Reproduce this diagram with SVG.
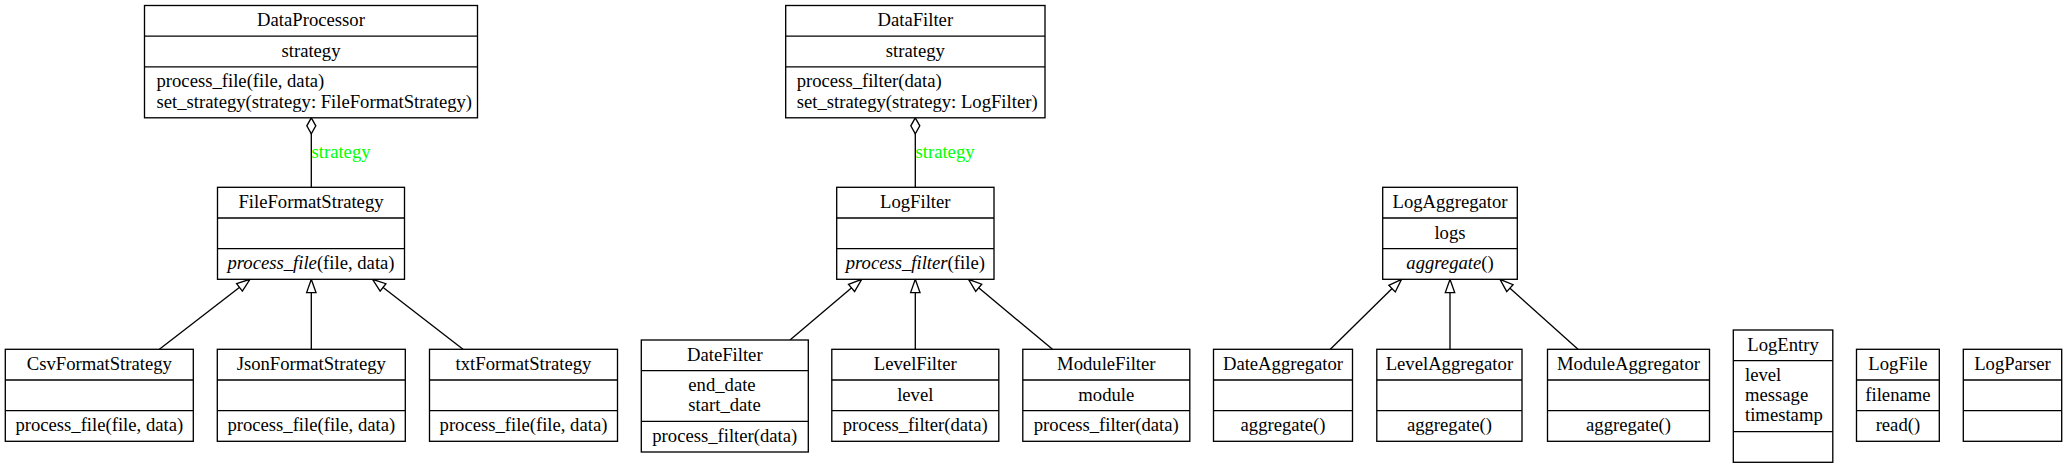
<svg xmlns="http://www.w3.org/2000/svg" width="2067" height="468" viewBox="0 0 2067 468">
<defs>
<style>
.box{fill:#fff;stroke:#000;stroke-width:1.33}
.div{stroke:#000;stroke-width:1.33}
.t{font-family:"Liberation Serif","Times New Roman",serif;font-size:18.67px;fill:#000}
.c{text-anchor:middle}
.i{font-style:italic}
.edge{stroke:#000;stroke-width:1.33;fill:none}
.lbl{font-family:"Liberation Serif","Times New Roman",serif;font-size:18.67px;fill:#00ff00}
</style>
<marker id="tri" markerUnits="userSpaceOnUse" viewBox="-1 -1 16 12" refX="13.3" refY="5" markerWidth="16" markerHeight="12" orient="auto">
<path d="M0,0.3 L13.3,5 L0,9.7 Z" fill="#fff" stroke="#000" stroke-width="1.33"/>
</marker>
<marker id="dia" markerUnits="userSpaceOnUse" viewBox="-1 -1 18 12" refX="0" refY="5" markerWidth="18" markerHeight="12" orient="auto">
<path d="M0,5 L8,0.5 L16,5 L8,9.5 Z" fill="#fff" stroke="#000" stroke-width="1.33"/>
</marker>
</defs>
<rect width="2067" height="468" fill="#fff"/>

<g id="edges">
<path class="edge" d="M311.3,117.8 L311.3,187.3" marker-start="url(#dia)"/>
<text class="lbl" x="311.5" y="157.5">strategy</text>
<path class="edge" d="M915.3,117.8 L915.3,187.3" marker-start="url(#dia)"/>
<text class="lbl" x="915.5" y="157.5">strategy</text>
<path class="edge" d="M159.4,349.3 L250,279.3" marker-end="url(#tri)"/>
<path class="edge" d="M311.3,349.3 L311.3,279.3" marker-end="url(#tri)"/>
<path class="edge" d="M463,349.3 L372.5,279.3" marker-end="url(#tri)"/>
<path class="edge" d="M790,340 L861.7,279.3" marker-end="url(#tri)"/>
<path class="edge" d="M915.3,349.3 L915.3,279.3" marker-end="url(#tri)"/>
<path class="edge" d="M1052.5,349.3 L968.5,279.3" marker-end="url(#tri)"/>
<path class="edge" d="M1330.3,349.3 L1401.5,279.3" marker-end="url(#tri)"/>
<path class="edge" d="M1450,349.3 L1450,279.3" marker-end="url(#tri)"/>
<path class="edge" d="M1578,349.3 L1500,279.3" marker-end="url(#tri)"/>
</g>

<g id="DataProcessor">
<rect class="box" x="144.5" y="5.5" width="333" height="112.3"/>
<line class="div" x1="144.5" y1="36.2" x2="477.5" y2="36.2"/>
<line class="div" x1="144.5" y1="66.8" x2="477.5" y2="66.8"/>
<text class="t c" x="311" y="26">DataProcessor</text>
<text class="t c" x="311" y="56.7">strategy</text>
<text class="t" x="156.5" y="87.3">process_file(file, data)</text>
<text class="t" x="156.5" y="107.6">set_strategy(strategy: FileFormatStrategy)</text>
</g>

<g id="DataFilter">
<rect class="box" x="785.7" y="5.5" width="259.3" height="112.3"/>
<line class="div" x1="785.7" y1="36.2" x2="1045" y2="36.2"/>
<line class="div" x1="785.7" y1="66.8" x2="1045" y2="66.8"/>
<text class="t c" x="915.3" y="26">DataFilter</text>
<text class="t c" x="915.3" y="56.7">strategy</text>
<text class="t" x="796.7" y="87.3">process_filter(data)</text>
<text class="t" x="796.7" y="107.6">set_strategy(strategy: LogFilter)</text>
</g>

<g id="FileFormatStrategy">
<rect class="box" x="217.5" y="187.3" width="187" height="92"/>
<line class="div" x1="217.5" y1="218" x2="404.5" y2="218"/>
<line class="div" x1="217.5" y1="248.7" x2="404.5" y2="248.7"/>
<text class="t c" x="311" y="207.8">FileFormatStrategy</text>
<text class="t c" x="311" y="269.2"><tspan class="i">process_file</tspan>(file, data)</text>
</g>

<g id="LogFilter">
<rect class="box" x="836.7" y="187.3" width="157.3" height="92"/>
<line class="div" x1="836.7" y1="218" x2="994" y2="218"/>
<line class="div" x1="836.7" y1="248.7" x2="994" y2="248.7"/>
<text class="t c" x="915.3" y="207.8">LogFilter</text>
<text class="t c" x="915.3" y="269.2"><tspan class="i">process_filter</tspan>(file)</text>
</g>

<g id="LogAggregator">
<rect class="box" x="1382.7" y="187.3" width="134.6" height="92"/>
<line class="div" x1="1382.7" y1="218" x2="1517.3" y2="218"/>
<line class="div" x1="1382.7" y1="248.7" x2="1517.3" y2="248.7"/>
<text class="t c" x="1450" y="207.8">LogAggregator</text>
<text class="t c" x="1450" y="238.5">logs</text>
<text class="t c" x="1450" y="269.2"><tspan class="i">aggregate</tspan>()</text>
</g>

<g id="CsvFormatStrategy">
<rect class="box" x="5.3" y="349.3" width="188" height="92"/>
<line class="div" x1="5.3" y1="380" x2="193.3" y2="380"/>
<line class="div" x1="5.3" y1="410.7" x2="193.3" y2="410.7"/>
<text class="t c" x="99.3" y="369.8">CsvFormatStrategy</text>
<text class="t c" x="99.3" y="431.2">process_file(file, data)</text>
</g>

<g id="JsonFormatStrategy">
<rect class="box" x="217.3" y="349.3" width="188" height="92"/>
<line class="div" x1="217.3" y1="380" x2="405.3" y2="380"/>
<line class="div" x1="217.3" y1="410.7" x2="405.3" y2="410.7"/>
<text class="t c" x="311.3" y="369.8">JsonFormatStrategy</text>
<text class="t c" x="311.3" y="431.2">process_file(file, data)</text>
</g>

<g id="txtFormatStrategy">
<rect class="box" x="429.5" y="349.3" width="188" height="92"/>
<line class="div" x1="429.5" y1="380" x2="617.5" y2="380"/>
<line class="div" x1="429.5" y1="410.7" x2="617.5" y2="410.7"/>
<text class="t c" x="523.5" y="369.8">txtFormatStrategy</text>
<text class="t c" x="523.5" y="431.2">process_file(file, data)</text>
</g>

<g id="DateFilter">
<rect class="box" x="641.3" y="340" width="167" height="112"/>
<line class="div" x1="641.3" y1="370.7" x2="808.3" y2="370.7"/>
<line class="div" x1="641.3" y1="421.3" x2="808.3" y2="421.3"/>
<text class="t c" x="724.8" y="360.5">DateFilter</text>
<text class="t" x="688.3" y="391.2">end_date</text>
<text class="t" x="688.3" y="411.4">start_date</text>
<text class="t c" x="724.8" y="441.8">process_filter(data)</text>
</g>

<g id="LevelFilter">
<rect class="box" x="831.8" y="349.3" width="167" height="92"/>
<line class="div" x1="831.8" y1="380" x2="998.8" y2="380"/>
<line class="div" x1="831.8" y1="410.7" x2="998.8" y2="410.7"/>
<text class="t c" x="915.3" y="369.8">LevelFilter</text>
<text class="t c" x="915.3" y="400.5">level</text>
<text class="t c" x="915.3" y="431.2">process_filter(data)</text>
</g>

<g id="ModuleFilter">
<rect class="box" x="1022.8" y="349.3" width="167" height="92"/>
<line class="div" x1="1022.8" y1="380" x2="1189.8" y2="380"/>
<line class="div" x1="1022.8" y1="410.7" x2="1189.8" y2="410.7"/>
<text class="t c" x="1106.3" y="369.8">ModuleFilter</text>
<text class="t c" x="1106.3" y="400.5">module</text>
<text class="t c" x="1106.3" y="431.2">process_filter(data)</text>
</g>

<g id="DateAggregator">
<rect class="box" x="1213.5" y="349.3" width="139" height="92"/>
<line class="div" x1="1213.5" y1="380" x2="1352.5" y2="380"/>
<line class="div" x1="1213.5" y1="410.7" x2="1352.5" y2="410.7"/>
<text class="t c" x="1283" y="369.8">DateAggregator</text>
<text class="t c" x="1283" y="431.2">aggregate()</text>
</g>

<g id="LevelAggregator">
<rect class="box" x="1376.8" y="349.3" width="145.2" height="92"/>
<line class="div" x1="1376.8" y1="380" x2="1522" y2="380"/>
<line class="div" x1="1376.8" y1="410.7" x2="1522" y2="410.7"/>
<text class="t c" x="1449.4" y="369.8">LevelAggregator</text>
<text class="t c" x="1449.4" y="431.2">aggregate()</text>
</g>

<g id="ModuleAggregator">
<rect class="box" x="1547.5" y="349.3" width="162" height="92"/>
<line class="div" x1="1547.5" y1="380" x2="1709.5" y2="380"/>
<line class="div" x1="1547.5" y1="410.7" x2="1709.5" y2="410.7"/>
<text class="t c" x="1628.5" y="369.8">ModuleAggregator</text>
<text class="t c" x="1628.5" y="431.2">aggregate()</text>
</g>

<g id="LogEntry">
<rect class="box" x="1733.3" y="330" width="99.5" height="132.3"/>
<line class="div" x1="1733.3" y1="360.7" x2="1832.8" y2="360.7"/>
<line class="div" x1="1733.3" y1="431.7" x2="1832.8" y2="431.7"/>
<text class="t c" x="1783" y="350.5">LogEntry</text>
<text class="t" x="1745" y="381">level</text>
<text class="t" x="1745" y="401.2">message</text>
<text class="t" x="1745" y="421.4">timestamp</text>
</g>

<g id="LogFile">
<rect class="box" x="1856.5" y="349.3" width="82.8" height="92"/>
<line class="div" x1="1856.5" y1="380" x2="1939.3" y2="380"/>
<line class="div" x1="1856.5" y1="410.7" x2="1939.3" y2="410.7"/>
<text class="t c" x="1897.9" y="369.8">LogFile</text>
<text class="t c" x="1897.9" y="400.5">filename</text>
<text class="t c" x="1897.9" y="431.2">read()</text>
</g>

<g id="LogParser">
<rect class="box" x="1963.3" y="349.3" width="98.4" height="92"/>
<line class="div" x1="1963.3" y1="380" x2="2061.7" y2="380"/>
<line class="div" x1="1963.3" y1="410.7" x2="2061.7" y2="410.7"/>
<text class="t c" x="2012.5" y="369.8">LogParser</text>
</g>
</svg>
